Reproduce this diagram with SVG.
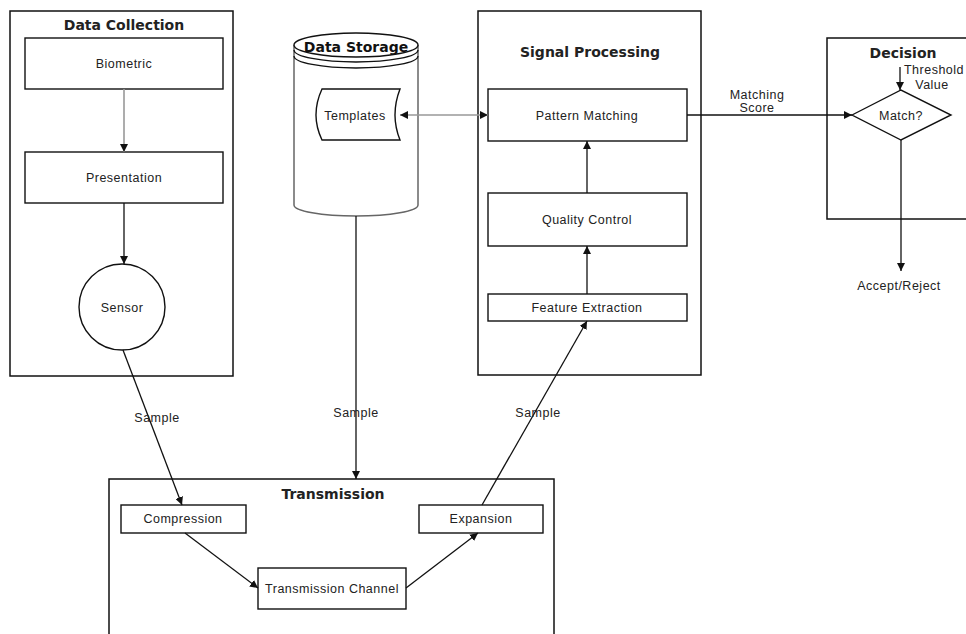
<svg xmlns="http://www.w3.org/2000/svg" width="966" height="634" viewBox="0 0 966 634">
<defs>
<marker id="ah" viewBox="0 0 10 10" refX="10" refY="5" markerWidth="8" markerHeight="8" markerUnits="userSpaceOnUse" orient="auto-start-reverse"><path d="M0,0 L10,5 L0,10 z" fill="#111"/></marker>
</defs>
<style>
.box{fill:#fff;stroke:#111;stroke-width:1.5}
.node{fill:#fff;stroke:#111;stroke-width:1.4}
.t{font-family:"Liberation Sans",Arial,sans-serif;font-size:12.5px;letter-spacing:0.5px;fill:#222;text-anchor:middle}
.h{font-family:"DejaVu Sans",Verdana,sans-serif;font-size:14px;font-weight:bold;fill:#222;text-anchor:middle}
.c{fill:none;stroke:#111;stroke-width:1.3}
.g{fill:none;stroke:#999;stroke-width:1.6}
</style>
<rect width="966" height="634" fill="#fff"/>

<g id="data-collection">
<rect class="box" x="10" y="11" width="223" height="365"/>
<text class="h" x="124" y="30">Data Collection</text>
</g>
<g id="biometric">
<rect class="node" x="25" y="38" width="198" height="51"/>
<text class="t" x="124" y="68">Biometric</text>
</g>
<g id="presentation">
<rect class="node" x="25" y="152" width="198" height="51"/>
<text class="t" x="124" y="182">Presentation</text>
</g>
<g id="sensor">
<circle class="node" cx="122" cy="307" r="43"/>
<text class="t" x="122" y="312">Sensor</text>
</g>

<g id="data-storage">
<path d="M294,45 L294,205 A62,11 0 0 0 418,205 L418,45" fill="#fff" stroke="#666" stroke-width="1.5"/>
<ellipse cx="356" cy="45" rx="62" ry="12" fill="#fff" stroke="#111" stroke-width="1.4"/>
<path d="M294,50 A62,12 0 0 0 418,50" fill="none" stroke="#111" stroke-width="1.3"/>
<path d="M294,56 A62,12 0 0 0 418,56" fill="none" stroke="#111" stroke-width="1.3"/>
<text class="h" x="356" y="52" style="fill:#111">Data Storage</text>
</g>
<g id="templates">
<path class="node" d="M322,89 L400,89 Q390,115 400,140 L322,140 Q310,115 322,89 z"/>
<text class="t" x="355" y="120">Templates</text>
</g>

<g id="signal-processing">
<rect class="box" x="478" y="11" width="223" height="364"/>
<text class="h" x="590" y="57">Signal Processing</text>
</g>
<g id="pattern-matching">
<rect class="node" x="488" y="89" width="199" height="52"/>
<text class="t" x="587" y="120">Pattern Matching</text>
</g>
<g id="quality-control">
<rect class="node" x="488" y="193" width="199" height="53"/>
<text class="t" x="587" y="224">Quality Control</text>
</g>
<g id="feature-extraction">
<rect class="node" x="488" y="294" width="199" height="27"/>
<text class="t" x="587" y="312">Feature Extraction</text>
</g>

<g id="decision">
<rect class="box" x="827" y="38" width="150" height="181"/>
<text class="h" x="903" y="58">Decision</text>
</g>
<g id="match">
<polygon class="node" points="852,115 901,90 951,115 901,140"/>
<text class="t" x="901" y="120">Match?</text>
</g>

<g id="transmission">
<rect class="box" x="109" y="479" width="445" height="170"/>
<text class="h" x="333" y="499">Transmission</text>
</g>
<g id="compression">
<rect class="node" x="121" y="505" width="125" height="28"/>
<text class="t" x="183" y="523">Compression</text>
</g>
<g id="expansion">
<rect class="node" x="419" y="505" width="124" height="28"/>
<text class="t" x="481" y="523">Expansion</text>
</g>
<g id="transmission-channel">
<rect class="node" x="258" y="568" width="148" height="41"/>
<text class="t" x="332" y="593">Transmission Channel</text>
</g>

<g id="connectors">
<line class="g" x1="124" y1="89" x2="124" y2="152" marker-end="url(#ah)"/>
<line class="c" x1="124" y1="203" x2="124" y2="264" marker-end="url(#ah)"/>
<line class="g" x1="400" y1="115" x2="488" y2="115" marker-start="url(#ah)" marker-end="url(#ah)"/>
<line class="c" x1="587" y1="193" x2="587" y2="141" marker-end="url(#ah)"/>
<line class="c" x1="587" y1="294" x2="587" y2="246" marker-end="url(#ah)"/>
<line class="c" x1="687" y1="115" x2="852" y2="115" marker-end="url(#ah)"/>
<line class="c" x1="900" y1="67" x2="900" y2="90" marker-end="url(#ah)"/>
<line class="c" x1="901" y1="140" x2="901" y2="271" marker-end="url(#ah)"/>
<line class="c" x1="123" y1="350" x2="182" y2="505" marker-end="url(#ah)"/>
<line class="c" x1="356" y1="216" x2="356" y2="479" marker-end="url(#ah)"/>
<line class="c" x1="482" y1="505" x2="587" y2="321" marker-end="url(#ah)"/>
<line class="c" x1="185" y1="533" x2="258" y2="588" marker-end="url(#ah)"/>
<line class="c" x1="406" y1="588" x2="478" y2="533" marker-end="url(#ah)"/>
<text class="t" x="757" y="99">Matching</text>
<text class="t" x="757" y="112">Score</text>
<text class="t" x="934" y="74">Threshold</text>
<text class="t" x="932" y="89">Value</text>
<text class="t" x="899" y="290">Accept/Reject</text>
<text class="t" x="157" y="422">Sample</text>
<text class="t" x="356" y="417">Sample</text>
<text class="t" x="538" y="417">Sample</text>
</g>
</svg>
